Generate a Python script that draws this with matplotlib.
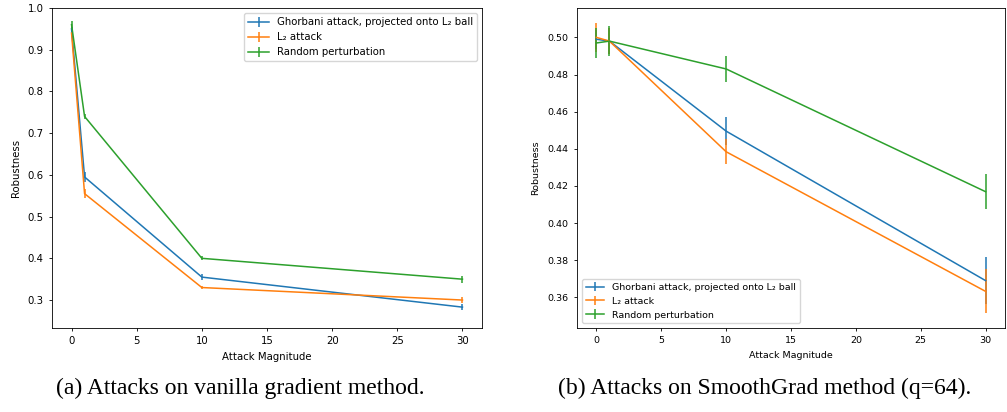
import matplotlib
matplotlib.use("Agg")
import matplotlib.pyplot as plt

magnitudes = [0, 1, 10, 30]
labels = ["Ghorbani attack, projected onto L\u2082 ball", "L\u2082 attack", "Random perturbation"]

# (a) vanilla gradient
van_ghorbani = [0.950, 0.595, 0.355, 0.283]
van_ghorbani_err = [0.005, 0.013, 0.008, 0.008]
van_l2 = [0.940, 0.555, 0.330, 0.300]
van_l2_err = [0.005, 0.010, 0.004, 0.008]
van_random = [0.960, 0.740, 0.400, 0.350]
van_random_err = [0.010, 0.006, 0.005, 0.008]

# (b) SmoothGrad
sg_ghorbani = [0.499, 0.498, 0.4495, 0.369]
sg_ghorbani_err = [0.005, 0.007, 0.0077, 0.0125]
sg_l2 = [0.500, 0.498, 0.4384, 0.3632]
sg_l2_err = [0.008, 0.007, 0.0067, 0.0119]
sg_random = [0.497, 0.498, 0.483, 0.4169]
sg_random_err = [0.008, 0.008, 0.007, 0.0095]

captions = ["(a) Attacks on vanilla gradient method.",
            "(b) Attacks on SmoothGrad method (q=64)."]

plt.rcParams.update({
    "lines.linewidth": 1.1,
    "axes.linewidth": 0.6,
    "xtick.major.width": 0.6,
    "ytick.major.width": 0.6,
    "xtick.major.size": 2.5,
    "ytick.major.size": 2.5,
})

W, H = 1007, 412
fig = plt.figure(figsize=(W / 100, H / 100), dpi=100)
ax1 = fig.add_axes([52 / W, (H - 328) / H, 430 / W, 320 / H])
ax2 = fig.add_axes([577 / W, (H - 328) / H, 428 / W, 320 / H])

series_a = [(van_ghorbani, van_ghorbani_err), (van_l2, van_l2_err), (van_random, van_random_err)]
series_b = [(sg_ghorbani, sg_ghorbani_err), (sg_l2, sg_l2_err), (sg_random, sg_random_err)]

for ax, series, fs in [(ax1, series_a, 7.3), (ax2, series_b, 6.8)]:
    for (vals, errs), lab in zip(series, labels):
        ax.errorbar(magnitudes, vals, yerr=errs, label=lab)
    ax.set_xlabel("Attack Magnitude", labelpad=4, fontsize=fs)
    ax.set_ylabel("Robustness", labelpad=5, fontsize=fs)
    ax.set_xticks([0, 5, 10, 15, 20, 25, 30])
    ax.tick_params(labelsize=fs)

ax1.set_ylim(0.233, 1.0)
ax1.legend(loc="upper right", fontsize=7.3)
ax2.legend(loc="lower left", fontsize=6.8)

fig.text(240 / W, 1 - 388 / H, captions[0], ha="center", va="center",
         family="Liberation Serif", fontsize=17)
fig.text(765 / W, 1 - 388 / H, captions[1], ha="center", va="center",
         family="Liberation Serif", fontsize=17)

fig.savefig("out.png", dpi=100)
